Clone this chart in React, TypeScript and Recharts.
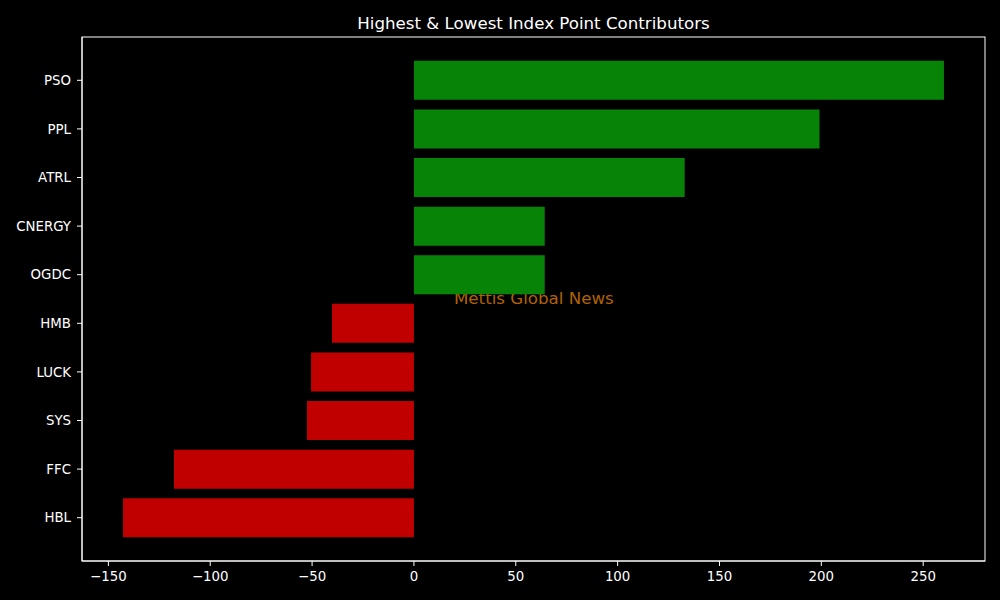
import { BarChart, Bar, XAxis, YAxis, Cell, usePlotArea } from "recharts";

// Index point contributors, top to bottom as in the picture
const stocks = ["PSO", "PPL", "ATRL", "CNERGY", "OGDC", "HMB", "LUCK", "SYS", "FFC", "HBL"];
const points = [260.2, 199.1, 132.9, 64.2, 64.2, -40.2, -50.5, -52.5, -117.8, -142.8];
const xTicks = [-150, -100, -50, 0, 50, 100, 150, 200, 250];

const data = stocks.map((s, i) => ({ stock: s, points: points[i] }));

// matplotlib-like 5% margin around the data
const minV = Math.min(0, ...points);
const maxV = Math.max(0, ...points);
const pad = (maxV - minV) * 0.05;
const domain: [number, number] = [minV - pad, maxV + pad];

const fmt = (v: number) => (v < 0 ? "\u2212" + Math.abs(v) : String(v));

const font = "'DejaVu Sans', sans-serif";
const tickStyle = { fill: "#fff", fontSize: 13.33, fontFamily: font };

// white box around the plot area (matplotlib spines)
function Frame() {
  const area = usePlotArea();
  if (!area) return null;
  return (
    <rect x={area.x} y={area.y} width={area.width} height={area.height} fill="none" stroke="#fff" strokeWidth={1} />
  );
}

export default function App() {
  return (
    <div style={{ position: "absolute", left: 0, top: 0, width: 1000, height: 600, background: "#000" }}>
      <BarChart
        width={1000}
        height={600}
        data={data}
        layout="vertical"
        margin={{ top: 37, right: 15, bottom: 0, left: 0 }}
        barCategoryGap="10%"
      >
        <text x={533.5} y={29} textAnchor="middle" fill="#fff" fontSize={16.67} fontFamily={font}>
          Highest &amp; Lowest Index Point Contributors
        </text>
        <XAxis
          type="number"
          dataKey="points"
          domain={domain}
          ticks={xTicks}
          tickFormatter={fmt}
          allowDataOverflow
          height={39}
          stroke="#fff"
          tick={tickStyle}
          tickSize={5}
          tickMargin={6}
        />
        <YAxis
          type="category"
          dataKey="stock"
          width={82}
          stroke="#fff"
          padding={{ top: 19, bottom: 19 }}
          tick={tickStyle}
          tickSize={5}
          tickMargin={6}
        />
        <Bar dataKey="points" isAnimationActive={false}>
          {data.map((d) => (
            <Cell key={d.stock} fill={d.points >= 0 ? "#078407" : "#c00000"} />
          ))}
        </Bar>
        <Frame />
        <text x={454} y={304} fill="#b26200" fontSize={16.67} fontFamily={font}>
          Mettis Global News
        </text>
      </BarChart>
    </div>
  );
}
